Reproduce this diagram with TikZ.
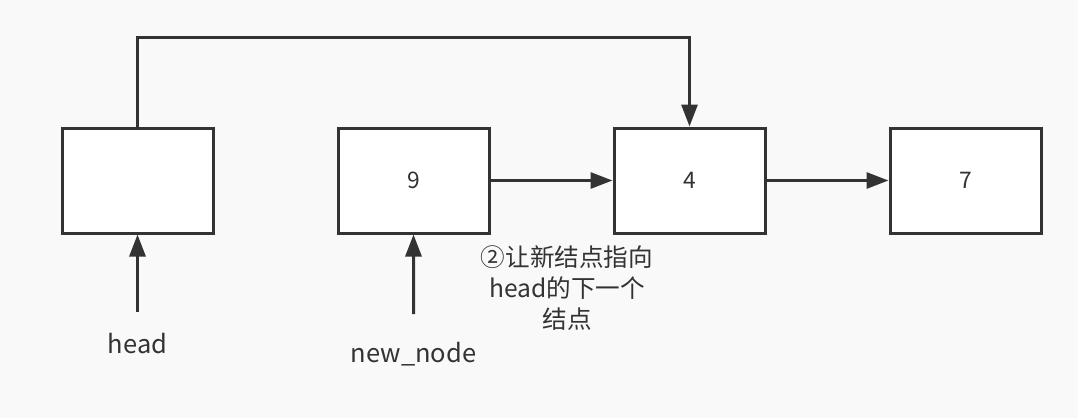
\documentclass[tikz,border=0pt]{standalone}
\usepackage{fontspec}
\setmainfont{Noto Sans CJK SC}
\usetikzlibrary{arrows.meta,positioning}
\definecolor{linegray}{HTML}{333333}
\definecolor{bggray}{HTML}{F9F9F9}
\begin{document}
\begin{tikzpicture}[
    listnode/.style={draw=linegray, line width=0.06cm, fill=white, minimum width=3.02cm, minimum height=2.1cm, inner sep=0pt, text=linegray, font=\fontsize{13}{15}\selectfont},
    link/.style={draw=linegray, line width=0.06cm, -{Triangle[length=0.44cm,width=0.32cm]}},
    ptrtext/.style={text=linegray, font=\fontsize{14.5}{17}\selectfont, anchor=base},
    notetext/.style={text=linegray, align=center, font=\fontsize{14}{17.6}\selectfont}
]
    \fill[bggray] (0,0) rectangle (21.56,8.36);
    \useasboundingbox (0,0) rectangle (21.56,8.36);

    \node[listnode] (head) at (2.75,4.75) {};
    \node[listnode, right=2.44cm of head] (nine) {9};
    \node[listnode, right=2.44cm of nine] (four) {4};
    \node[listnode, right=2.44cm of four] (seven) {7};

    \coordinate (bend) at (2.75,7.62);
    \draw[link] (head.north) -- (bend) -| (four.north);
    \draw[link] (nine) -- (four);
    \draw[link] (four) -- (seven);

    \coordinate (headtail) at (2.75,2.12);
    \coordinate (newtail) at (8.27,2.08);
    \draw[link] (headtail) -- (head.south);
    \draw[link] (newtail) -- (nine.south);

    \node[ptrtext] (headlbl) at (2.75,1.3) {head};
    \node[ptrtext] (newlbl) at (8.27,1.12) {new\_node};
    \node[notetext] (note) at (11.34,2.6) {②让新结点指向\\head的下一个\\结点};
\end{tikzpicture}
\end{document}
